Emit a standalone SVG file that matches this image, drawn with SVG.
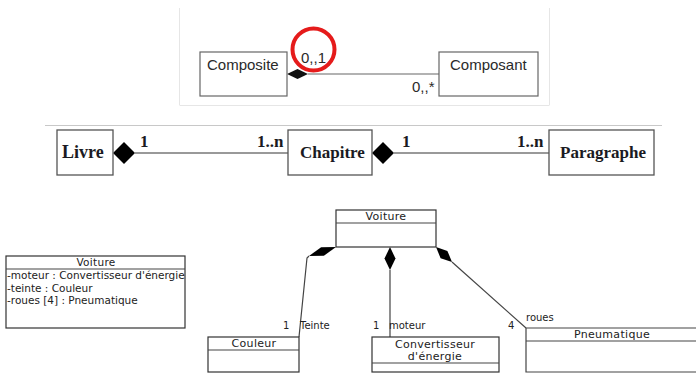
<svg xmlns="http://www.w3.org/2000/svg" width="696" height="374" viewBox="0 0 696 374">
<style>
.frame{fill:none;stroke:#e6e6e6;stroke-width:1}
.box1{fill:#fff;stroke:#666;stroke-width:1.2}
.t1{font-family:"Liberation Sans",Arial,sans-serif;font-size:15px;fill:#2a2a2a}
.box2{fill:#fff;stroke:#555;stroke-width:1.3}
.t2{font-family:"Liberation Serif","Times New Roman",serif;font-size:17px;font-weight:bold;fill:#1a1a22}
.line2{stroke:#777;stroke-width:1.5;fill:none}
.box3{fill:#fff;stroke:#333;stroke-width:1.2}
.t3{font-family:"DejaVu Sans",sans-serif;font-size:10.5px;fill:#222}
.h3{font-family:"DejaVu Sans",sans-serif;font-size:11px;fill:#222;text-anchor:middle;letter-spacing:0.3px}
.lbl{font-family:"DejaVu Sans",sans-serif;font-size:10px;fill:#222}
.line3{stroke:#444;stroke-width:1.2;fill:none}
</style>
<g id="frame">
<line class="frame" x1="179.5" y1="8" x2="179.5" y2="105"/>
<line class="frame" x1="549.5" y1="8" x2="549.5" y2="105"/>
<line class="frame" x1="179.5" y1="105.5" x2="549.5" y2="105.5"/>
<line x1="45" y1="125.5" x2="662" y2="125.5" stroke="#c8c8c8" stroke-width="1.2"/>
</g>
<g id="connectors">
<line x1="308" y1="74" x2="439" y2="74" stroke="#666" stroke-width="1.2"/>
<polygon points="287,74 297.5,69 308,74 297.5,79" fill="#111"/>
<text class="t1" x="412" y="92">0,,*</text>
<line class="line2" x1="135" y1="153" x2="288" y2="153"/>
<polygon points="113,153 124,142 135,153 124,164" fill="#000"/>
<line class="line2" x1="394" y1="153" x2="549" y2="153"/>
<polygon points="372,153 383,142 394,153 383,164" fill="#000"/>
<text class="t2" x="140" y="147">1</text>
<text class="t2" x="257" y="147">1..n</text>
<text class="t2" x="402" y="147">1</text>
<text class="t2" x="517" y="147">1..n</text>
<polyline class="line3" points="309,256 307,258 299,337"/>
<polygon points="336,247 323.9,255.8 309,256 321.1,247.2" fill="#000"/>
<line class="line3" x1="390" y1="270" x2="390" y2="337"/>
<polygon points="390,247 395.5,258.5 390,270 384.5,258.5" fill="#000"/>
<line class="line3" x1="452" y1="262" x2="526" y2="328"/>
<polygon points="436,247 440.6,258.2 452,262 447.4,250.9" fill="#000"/>
<text class="lbl" x="283" y="329">1</text>
<text class="lbl" x="300" y="329">Teinte</text>
<text class="lbl" x="373" y="329">1</text>
<text class="lbl" x="389" y="329">moteur</text>
<text class="lbl" x="508" y="329">4</text>
<text class="lbl" x="526" y="321">roues</text>
</g>
<g id="composite">
<rect class="box1" x="200" y="52" width="87" height="44"/>
<text class="t1" x="207" y="70">Composite</text>
</g>
<g id="composant">
<rect class="box1" x="439" y="52" width="99" height="44"/>
<text class="t1" x="450" y="70">Composant</text>
</g>
<g id="highlight">
<circle cx="313.5" cy="49.5" r="21" fill="none" stroke="#e51b1b" stroke-width="4"/>
<text class="t1" x="301" y="63">0,,1</text>
</g>
<g id="livre">
<rect class="box2" x="57" y="130" width="56" height="45"/>
<text class="t2" x="62" y="158" style="font-size:18px">Livre</text>
</g>
<g id="chapitre">
<rect class="box2" x="288" y="130" width="84" height="45"/>
<text class="t2" x="300" y="158">Chapitre</text>
</g>
<g id="paragraphe">
<rect class="box2" x="549" y="130" width="105" height="45"/>
<text class="t2" x="560" y="158">Paragraphe</text>
</g>
<g id="voiture-attrs">
<rect class="box3" x="6" y="256" width="179" height="72"/>
<line class="line3" x1="6" y1="269" x2="185" y2="269"/>
<text class="h3" x="96" y="266" style="font-size:10.5px">Voiture</text>
<text class="t3" x="7" y="279">-moteur : Convertisseur d'énergie</text>
<text class="t3" x="7" y="292">-teinte : Couleur</text>
<text class="t3" x="7" y="304">-roues [4] : Pneumatique</text>
</g>
<g id="voiture">
<rect class="box3" x="336" y="210" width="100" height="37"/>
<line class="line3" x1="336" y1="223" x2="436" y2="223"/>
<text class="h3" x="386" y="220">Voiture</text>
</g>
<g id="couleur">
<rect class="box3" x="208" y="337" width="91" height="35"/>
<line class="line3" x1="208" y1="350" x2="299" y2="350"/>
<text class="h3" x="254" y="347">Couleur</text>
</g>
<g id="convertisseur">
<rect class="box3" x="372" y="337" width="127" height="35"/>
<line class="line3" x1="372" y1="363" x2="499" y2="363"/>
<text class="h3" x="435" y="348">Convertisseur</text>
<text class="h3" x="435" y="360">d'énergie</text>
</g>
<g id="pneumatique">
<polyline class="line3" points="700,328 526,328 526,372 700,372"/>
<line class="line3" x1="526" y1="341" x2="700" y2="341"/>
<text class="h3" x="612" y="338">Pneumatique</text>
</g>
</svg>
